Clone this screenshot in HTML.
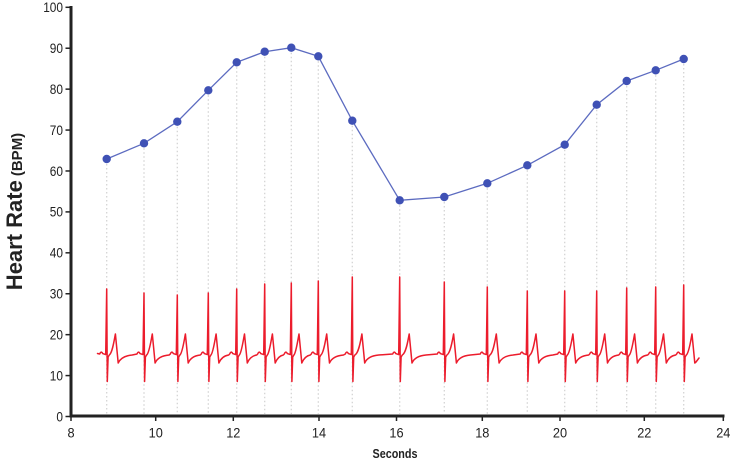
<!DOCTYPE html>
<html>
<head>
<meta charset="utf-8">
<style>
  html, body { margin: 0; padding: 0; background: #ffffff; }
  svg { display: block; font-family: "Liberation Sans", sans-serif; }
</style>
</head>
<body>
<svg id="chart" width="730" height="460" viewBox="0 0 730 460" xmlns="http://www.w3.org/2000/svg">
  <rect width="730" height="460" fill="#ffffff"/>
  <g id="drops" stroke="#d4d4d4" stroke-width="1.3" stroke-dasharray="1.5,2.5"></g>
  <path id="ecg" fill="none" stroke="#ec1c2c" stroke-width="1.5" stroke-linejoin="round" stroke-linecap="round"/>
  <polyline id="hr" fill="none" stroke="#5c6bc0" stroke-width="1.3"/>
  <g id="dots" fill="#3f51b5"></g>

  <!-- axes -->
  <g stroke="#222" fill="none">
    <line x1="71" y1="6" x2="71" y2="417.5" stroke-width="3"/>
    <line x1="69.5" y1="416" x2="724.5" y2="416" stroke-width="3"/>
  </g>
  <g id="yticks" stroke="#222" stroke-width="1.5"></g>
  <g id="xticks" stroke="#222" stroke-width="1.5"></g>
  <g id="ylabels" fill="#222" font-size="13.5" text-anchor="end"></g>
  <g id="xlabels" fill="#222" font-size="14" text-anchor="middle"></g>

  <text x="395" y="458" fill="#222" font-size="12.5" font-weight="bold" text-anchor="middle" textLength="45" lengthAdjust="spacingAndGlyphs">Seconds</text>
  <text transform="translate(22,211.5) rotate(-90)" fill="#222" text-anchor="middle" font-weight="bold"><tspan font-size="22">Heart Rate</tspan><tspan font-size="15" dx="4">(BPM)</tspan></text>
</svg>
<script>
(function(){
  var NS = "http://www.w3.org/2000/svg";
  function el(tag, attrs, parent, text){
    var e = document.createElementNS(NS, tag);
    for (var k in attrs) e.setAttribute(k, attrs[k]);
    if (text !== undefined) e.textContent = text;
    parent.appendChild(e);
    return e;
  }
  var yv = function(v){ return 416.5 - v*4.092; };

  var yt = document.getElementById('yticks'), yl = document.getElementById('ylabels');
  for (var v = 0; v <= 100; v += 10) {
    var y = yv(v);
    el('line', {x1:65.5, y1:y, x2:70, y2:y}, yt);
    var s = String(v);
    el('text', {x:63, y:y+4.8, textLength:(s.length*6.6), lengthAdjust:'spacingAndGlyphs'}, yl, s);
  }
  var xt = document.getElementById('xticks'), xl = document.getElementById('xlabels');
  var xs = [71,155.7,233.3,319,396.5,482.3,560,644.3,723.3];
  for (var i = 0; i < xs.length; i++) {
    var x = xs[i];
    el('line', {x1:x, y1:417, x2:x, y2:421}, xt);
    var s2 = String(8 + 2*i);
    el('text', {x:x, y:437.5, textLength:(s2.length*7.1), lengthAdjust:'spacingAndGlyphs'}, xl, s2);
  }

  var pts = [[106.7,159],[144,143.3],[177.3,121.7],[208.3,90.3],[236.7,62.3],[264.7,51.7],[291.3,47.7],[318.3,56.3],
             [352.3,120.7],[399.7,200.3],[444.3,197],[487.3,183.3],[527.3,165.3],[564.7,144.7],[596.7,104.7],[626.7,81],
             [655.7,70.3],[683.7,59]];
  var drops = document.getElementById('drops'), dots = document.getElementById('dots');
  var poly = [];
  for (var j = 0; j < pts.length; j++) {
    var p = pts[j];
    poly.push(p[0]+','+p[1]);
    el('line', {x1:p[0], y1:p[1]+5, x2:p[0], y2:414}, drops);
    el('circle', {cx:p[0], cy:p[1], r:4.2}, dots);
  }
  document.getElementById('hr').setAttribute('points', poly.join(' '));

  var tops = [289,293,295,293,289,284,283,281,277,277,282,287,291,291,291,288,287,285];
  var d = 'M97.5,353.5';
  var base = 354;
  for (var k = 0; k < pts.length; k++) {
    var R = pts[k][0];
    d += ' L' + (R-7).toFixed(1) + ',' + base;
    d += ' Q' + (R-5.5).toFixed(1) + ',350.5 ' + (R-4).toFixed(1) + ',353.6';
    d += ' L' + (R-1).toFixed(1) + ',354.6';
    d += ' L' + R.toFixed(1) + ',' + tops[k];
    d += ' L' + (R+0.6).toFixed(1) + ',381.5';
    d += ' L' + (R+1.4).toFixed(1) + ',357';
    d += ' L' + (R+2.6).toFixed(1) + ',355';
    var next = k < pts.length-1 ? pts[k+1][0] : R + 40;
    var ni = next - R;
    var tp = Math.min(9.6, 5 + ni*0.1);
    if (k === pts.length-1) tp = 8.3;
    d += ' C' + (R+tp-3).toFixed(1) + ',353 ' + (R+tp-1.2).toFixed(1) + ',340 ' + (R+tp).toFixed(1) + ',334';
    var tr = R + tp + 2.8;
    d += ' L' + tr.toFixed(1) + ',363';
    if (k < pts.length-1) {
      var rec = Math.min(tr + 14, next - 8);
      d += ' Q' + (tr+3).toFixed(1) + ',356 ' + rec.toFixed(1) + ',355';
    } else {
      d += ' L' + (tr+1.2).toFixed(1) + ',362 L699,358';
    }
  }
  document.getElementById('ecg').setAttribute('d', d);
})();
</script>
</body>
</html>
